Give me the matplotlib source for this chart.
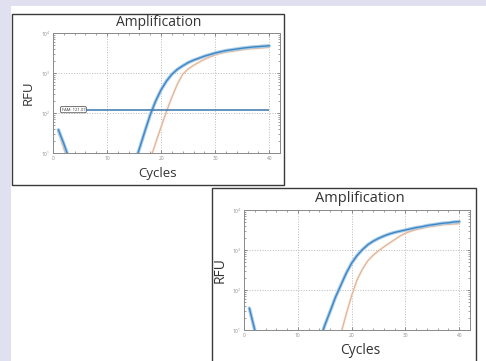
import numpy as np
import matplotlib
matplotlib.use('Agg')
import matplotlib.pyplot as plt
from matplotlib.patches import Rectangle
from matplotlib.ticker import LogLocator, MultipleLocator, NullFormatter

plt.rcParams['font.family'] = ['Open Sans', 'DejaVu Sans']

# cycles 1..40
cycles = list(range(1, 41))

# panel 1 (top) RFU
blue_top = [38, 17, 7, 3, 3, 3, 3, 3, 3, 3, 3, 3, 3, 3, 5, 13, 35, 91, 200, 380,
            630, 930, 1230, 1510, 1820, 2090, 2340, 2630, 2880, 3160,
            3390, 3630, 3800, 3980, 4170, 4320, 4470, 4570, 4680, 4790]
orange_top = [32, 13, 5, 3, 3, 3, 3, 3, 3, 3, 3, 3, 3, 3, 3, 3, 3, 7, 18, 45,
              110, 250, 525, 930, 1260, 1550, 1860, 2190, 2510, 2820,
              3090, 3310, 3470, 3630, 3800, 3980, 4070, 4170, 4270, 4370]
threshold_top = 121.07
threshold_label = 'FAM: 121.07'

# panel 2 (bottom)
blue_bot = [35, 10, 3, 3, 3, 3, 3, 3, 3, 3, 3, 3, 3, 5, 13, 29, 66, 132, 263, 468,
            724, 1020, 1350, 1660, 1950, 2240, 2510, 2750, 2950, 3160,
            3390, 3630, 3800, 4070, 4270, 4470, 4680, 4790, 5010, 5130]
orange_bot = [32, 9, 3, 3, 3, 3, 3, 3, 3, 3, 3, 3, 3, 3, 3, 3, 3, 8, 25, 72,
              178, 331, 537, 740, 955, 1200, 1480, 1820, 2240, 2630,
              2950, 3240, 3470, 3720, 3890, 4070, 4270, 4370, 4470, 4570]

W, H = 486, 361
fig = plt.figure(figsize=(W / 100, H / 100), dpi=100)
fig.patch.set_facecolor('#e1e0f0')


def px_rect(x0, y0, x1, y1, **kw):
    # rectangle in pixel coords (top-left origin)
    r = Rectangle((x0 / W, 1 - y1 / H), (x1 - x0) / W, (y1 - y0) / H,
                  transform=fig.transFigure, **kw)
    fig.patches.append(r)


px_rect(11, 6, 490, 365, facecolor='white', edgecolor='none', zorder=0)
px_rect(11.5, 13.5, 284, 185, facecolor='white', edgecolor='#3a3a3a', lw=1.0, zorder=1)
px_rect(212, 188, 476, 370, facecolor='white', edgecolor='#3a3a3a', lw=1.0, zorder=1)


def panel(rect, blue, orange):
    l, t, r, b = rect
    ax = fig.add_axes([l / W, 1 - b / H, (r - l) / W, (b - t) / H])
    ax.set_zorder(2)
    ax.plot(cycles, orange, color='#f4dccb', lw=1.6, solid_capstyle='round')
    ax.plot(cycles, orange, color='#e0ad8e', lw=0.6)
    ax.plot(cycles, blue, color='#a8cce8', lw=2.5, solid_capstyle='round')
    ax.plot(cycles, blue, color='#3f86c4', lw=1.0)
    ax.set_yscale('log')
    ax.set_ylim(10, 1e4)
    ax.set_xlim(0, 42)
    ax.xaxis.set_major_locator(MultipleLocator(10))
    ax.xaxis.set_minor_locator(MultipleLocator(2))
    ax.yaxis.set_major_locator(LogLocator(base=10))
    ax.yaxis.set_minor_locator(LogLocator(base=10, subs=np.arange(2, 10)))
    ax.yaxis.set_minor_formatter(NullFormatter())
    ax.tick_params(which='both', direction='in', top=True, right=True,
                   color='#777777', labelsize=3.5, labelcolor='#8a8a8a', pad=2)
    ax.tick_params(which='major', length=2.5, width=0.6)
    ax.tick_params(which='minor', length=1.5, width=0.5)
    ax.grid(True, which='major', ls=':', color='#b8b8b8', lw=0.7)
    for s in ax.spines.values():
        s.set_color('#8a8a8a')
        s.set_linewidth(0.7)
    return ax


ax1 = panel((53, 33, 280, 153), blue_top, orange_top)
ax1.hlines(threshold_top, 1.5, 40, color='#4a80b4', lw=1.2, zorder=3)
ax1.text(1.6, threshold_top, threshold_label, fontsize=3, color='#333333',
         va='center', ha='left', zorder=4,
         bbox=dict(boxstyle='round,pad=0.25', fc='white', ec='#555555', lw=0.6))

ax2 = panel((244, 210, 470, 330), blue_bot, orange_bot)

# titles and axis labels placed in pixel coords
fig.text(159 / W, 1 - 22 / H, 'Amplification', ha='center', va='center', fontsize=10, color='#333333')
fig.text(158 / W, 1 - 173 / H, 'Cycles', ha='center', va='center', fontsize=9.5, color='#333333')
fig.text(28 / W, 1 - 93 / H, 'RFU', ha='center', va='center', rotation=90, fontsize=9.5, color='#333333')

fig.text(360 / W, 1 - 198 / H, 'Amplification', ha='center', va='center', fontsize=10.5, color='#333333')
fig.text(360 / W, 1 - 350 / H, 'Cycles', ha='center', va='center', fontsize=10, color='#333333')
fig.text(220 / W, 1 - 270 / H, 'RFU', ha='center', va='center', rotation=90, fontsize=10, color='#333333')

fig.savefig('out.png', dpi=100, facecolor=fig.get_facecolor())
